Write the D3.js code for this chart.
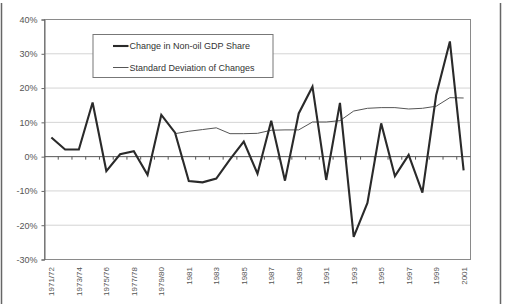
<!DOCTYPE html>
<html>
<head>
<meta charset="utf-8">
<script src="https://cdn.jsdelivr.net/npm/d3@7"></script>
<style>
  body { margin: 0; background: #fff; }
  svg { display: block; font-family: "Liberation Sans", Arial, sans-serif; }
</style>
</head>
<body>
<svg id="chart"></svg>
<script>
const years = ["1971/72", "1972/73", "1973/74", "1974/75", "1975/76", "1976/77", "1977/78", "1978/79", "1979/80",
  "1980", "1981", "1982", "1983", "1984", "1985", "1986", "1987", "1988", "1989", "1990",
  "1991", "1992", "1993", "1994", "1995", "1996", "1997", "1998", "1999", "2000", "2001"];

// change in non-oil GDP share, %
const changeShare = [5.6, 2.1, 2.1, 15.8, -4.2, 0.7, 1.6, -5.3, 12.2, 7.0,
  -7.1, -7.5, -6.4, -0.8, 4.4, -5.0, 10.5, -7.0, 12.6, 20.4,
  -6.8, 15.7, -23.4, -13.5, 9.7, -5.7, 0.5, -10.5, 17.9, 33.6, -4.0];

// standard deviation of changes, % (starts 1980)
const stdDev = [null, null, null, null, null, null, null, null, null, 6.7,
  7.4, 7.9, 8.4, 6.7, 6.7, 6.8, 7.7, 7.8, 7.8, 10.1,
  10.1, 10.5, 13.3, 14.1, 14.3, 14.3, 13.9, 14.1, 14.7, 17.2, 17.1];

const yTicks = [-30, -20, -10, 0, 10, 20, 30, 40];

const width = 505, height = 304;
const margin = { top: 19.5, right: 34.5, bottom: 44.5, left: 44.5 };

const svg = d3.select("#chart").attr("width", width).attr("height", height);

// outer frame sides
svg.append("line").attr("x1", 1.5).attr("x2", 1.5).attr("y1", 3).attr("y2", height)
  .attr("stroke", "#666").attr("stroke-width", 1.5);
svg.append("line").attr("x1", 500.5).attr("x2", 500.5).attr("y1", 3).attr("y2", height)
  .attr("stroke", "#666").attr("stroke-width", 1.5);

const x = d3.scaleBand().domain(years).range([margin.left, width - margin.right]);
const y = d3.scaleLinear().domain([-30, 40]).range([height - margin.bottom, margin.top]);

const g = svg.append("g");

// gridlines
g.selectAll(".grid").data(yTicks.filter(d => d !== 0 && d !== -30 && d !== 40)).join("line")
  .attr("x1", margin.left).attr("x2", width - margin.right)
  .attr("y1", d => y(d)).attr("y2", d => y(d))
  .attr("stroke", "#d4d4d4").attr("stroke-width", 1);

// plot frame
g.append("rect")
  .attr("x", margin.left).attr("y", margin.top)
  .attr("width", width - margin.right - margin.left)
  .attr("height", height - margin.bottom - margin.top)
  .attr("fill", "none").attr("stroke", "#8a8a8a").attr("stroke-width", 1);

// y axis
const yAxis = g.append("g")
  .attr("transform", `translate(${margin.left},0)`)
  .call(d3.axisLeft(y).tickValues(yTicks).tickSize(3).tickPadding(4).tickFormat(d => d + "%"));
yAxis.select(".domain").attr("stroke", "#666");
yAxis.selectAll(".tick line").attr("stroke", "#666");
yAxis.selectAll("text").attr("fill", "#555").style("font-size", "9px")
  .style("font-family", "Liberation Sans, Arial, sans-serif");

// zero axis with ticks between categories
g.append("line")
  .attr("x1", margin.left).attr("x2", width - margin.right)
  .attr("y1", y(0)).attr("y2", y(0))
  .attr("stroke", "#555").attr("stroke-width", 1);
g.selectAll(".xtick").data(years.slice(1)).join("line")
  .attr("x1", d => x(d)).attr("x2", d => x(d))
  .attr("y1", y(0)).attr("y2", y(0) + 3)
  .attr("stroke", "#555");

// x labels
g.selectAll(".xlab").data(years.filter((d, i) => i % 2 === 0)).join("text")
  .attr("transform", d => `translate(${x(d) + x.bandwidth() / 2 + 3},${height - margin.bottom + 7.5}) rotate(-90)`)
  .attr("text-anchor", "end")
  .attr("fill", "#555")
  .style("font-size", "8px")
  .text(d => d);

const line = d3.line()
  .defined(d => d[1] !== null)
  .x(d => x(d[0]) + x.bandwidth() / 2)
  .y(d => y(d[1]));

g.append("path")
  .datum(years.map((d, i) => [d, stdDev[i]]))
  .attr("d", line)
  .attr("fill", "none").attr("stroke", "#555").attr("stroke-width", 1);

g.append("path")
  .datum(years.map((d, i) => [d, changeShare[i]]))
  .attr("d", line)
  .attr("fill", "none").attr("stroke", "#2a2a2a").attr("stroke-width", 2.1)
  .attr("stroke-linejoin", "miter");

// legend
const leg = svg.append("g").attr("transform", "translate(93,34.5)");
leg.append("rect").attr("width", 180).attr("height", 43)
  .attr("fill", "#fff").attr("stroke", "#777").attr("stroke-width", 1);
const legItems = [
  { label: "Change in Non-oil GDP Share", w: 2.1, c: "#2a2a2a" },
  { label: "Standard Deviation of Changes", w: 1, c: "#555" }
];
legItems.forEach((d, i) => {
  const ly = 11.5 + i * 21.5;
  leg.append("line").attr("x1", 20).attr("x2", 35.5).attr("y1", ly).attr("y2", ly)
    .attr("stroke", d.c).attr("stroke-width", d.w);
  leg.append("text").attr("x", 36.5).attr("y", ly + 3.2)
    .attr("fill", "#333").style("font-size", "9px").text(d.label);
});
</script>
</body>
</html>
